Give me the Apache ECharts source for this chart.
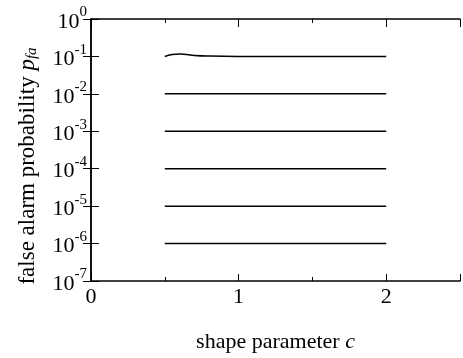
<!DOCTYPE html>
<html>
<head>
<meta charset="utf-8">
<script src="https://cdn.jsdelivr.net/npm/echarts@6/dist/echarts.min.js"></script>
<style>
html,body{margin:0;padding:0;background:#fff;}
#chart{width:463px;height:358px;}
</style>
</head>
<body>
<div id="chart"></div>
<script>
// shape parameter c
const cValues = [0.5, 0.55, 0.6, 0.65, 0.7, 0.8, 1.0, 1.5, 2.0];
// false alarm probability curves
const pfa1 = [0.1, 0.112, 0.116, 0.112, 0.106, 0.102, 0.1, 0.1, 0.1];
const pfa2 = [0.01, 0.01, 0.01, 0.01, 0.01, 0.01, 0.01, 0.01, 0.01];
const pfa3 = [0.001, 0.001, 0.001, 0.001, 0.001, 0.001, 0.001, 0.001, 0.001];
const pfa4 = [0.0001, 0.0001, 0.0001, 0.0001, 0.0001, 0.0001, 0.0001, 0.0001, 0.0001];
const pfa5 = [0.00001, 0.00001, 0.00001, 0.00001, 0.00001, 0.00001, 0.00001, 0.00001, 0.00001];
const pfa6 = [0.000001, 0.000001, 0.000001, 0.000001, 0.000001, 0.000001, 0.000001, 0.000001, 0.000001];
const xTickLabels = ['0', '1', '2'];

const FONT = 'Liberation Serif';
const curves = [pfa1, pfa2, pfa3, pfa4, pfa5, pfa6];

const chart = echarts.init(document.getElementById('chart'), null, {renderer: 'canvas'});

const baseX = {
  type: 'value', min: 0, max: 2.5, gridIndex: 0,
  splitLine: {show: false}
};
const baseY = {
  type: 'log', logBase: 10, min: 1e-7, max: 1, gridIndex: 0,
  splitLine: {show: false}
};

const option = {
  backgroundColor: '#fff',
  animation: false,
  grid: {left: 91, top: 19, width: 374, height: 268, containLabel: false},
  graphic: [{
    type: 'text',
    x: 28, y: 166,
    rotation: Math.PI / 2,
    silent: true,
    style: {
      text: '{t|false alarm probability }{i|p}{sub|fa}',
      align: 'center',
      verticalAlign: 'middle',
      fill: '#000',
      font: '23px "Liberation Serif"',
      rich: {
        t: {fontFamily: FONT, fontSize: 23, fill: '#000', lineHeight: 24, verticalAlign: 'top'},
        i: {fontFamily: FONT, fontSize: 23, fontStyle: 'italic', fill: '#000', lineHeight: 24, verticalAlign: 'top'},
        sub: {fontFamily: FONT, fontSize: 15, fontStyle: 'italic', fill: '#000', lineHeight: 16, verticalAlign: 'bottom', padding: [12, 0, 0, 0]}
      }
    }
  }],
  xAxis: [
    Object.assign({}, baseX, {
      position: 'bottom', interval: 1,
      axisLine: {show: true, lineStyle: {color: '#000', width: 1.5}},
      axisTick: {show: true, inside: true, length: 7, lineStyle: {color: '#000', width: 1}},
      axisLabel: {
        show: true, margin: 5, fontFamily: FONT, fontSize: 22, color: '#000',
        formatter: function (v) {
          const s = String(v);
          return xTickLabels.indexOf(s) >= 0 ? s : '';
        }
      },
      name: '{t|shape parameter }{i|c}',
      nameLocation: 'middle', nameGap: 50,
      nameTextStyle: {
        fontFamily: FONT, fontSize: 22, color: '#000',
        rich: {
          t: {fontFamily: FONT, fontSize: 22, color: '#000'},
          i: {fontFamily: FONT, fontSize: 22, fontStyle: 'italic', color: '#000'}
        }
      }
    }),
    Object.assign({}, baseX, {
      position: 'bottom', interval: 0.5,
      axisLine: {show: false},
      axisTick: {show: true, inside: true, length: 4, lineStyle: {color: '#000', width: 1}},
      axisLabel: {show: false}
    }),
    Object.assign({}, baseX, {
      position: 'top', interval: 1,
      axisLine: {show: true, lineStyle: {color: '#000', width: 1.5}},
      axisTick: {show: true, inside: true, length: 8, lineStyle: {color: '#000', width: 1}},
      axisLabel: {show: false}
    }),
    Object.assign({}, baseX, {
      position: 'top', interval: 0.5,
      axisLine: {show: false},
      axisTick: {show: true, inside: true, length: 4, lineStyle: {color: '#000', width: 1}},
      axisLabel: {show: false}
    })
  ],
  yAxis: [
    Object.assign({}, baseY, {
      position: 'left',
      axisLine: {show: true, lineStyle: {color: '#000', width: 1.5}},
      axisTick: {show: true, inside: true, length: 8, lineStyle: {color: '#000', width: 1}},
      axisLabel: {
        show: true, margin: 4, color: '#000',
        formatter: function (v) {
          const e = Math.round(Math.log10(v));
          return '{b|10}{s|' + e + '}';
        },
        rich: {
          b: {fontFamily: FONT, fontSize: 22, color: '#000', lineHeight: 28, verticalAlign: 'bottom'},
          s: {fontFamily: FONT, fontSize: 15, color: '#000', lineHeight: 13, verticalAlign: 'top'}
        }
      }
    }),
    Object.assign({}, baseY, {
      position: 'right',
      axisLine: {show: true, lineStyle: {color: '#000', width: 1.5}},
      axisTick: {show: true, inside: true, length: 8, lineStyle: {color: '#000', width: 1}},
      axisLabel: {show: false}
    })
  ],
  series: curves.map(function (arr) {
    return {
      type: 'line', xAxisIndex: 0, yAxisIndex: 0,
      data: cValues.map(function (c, i) { return [c, arr[i]]; }),
      showSymbol: false, smooth: true,
      lineStyle: {color: '#000', width: 1.5},
      silent: true
    };
  })
};
chart.setOption(option);
</script>
</body>
</html>
